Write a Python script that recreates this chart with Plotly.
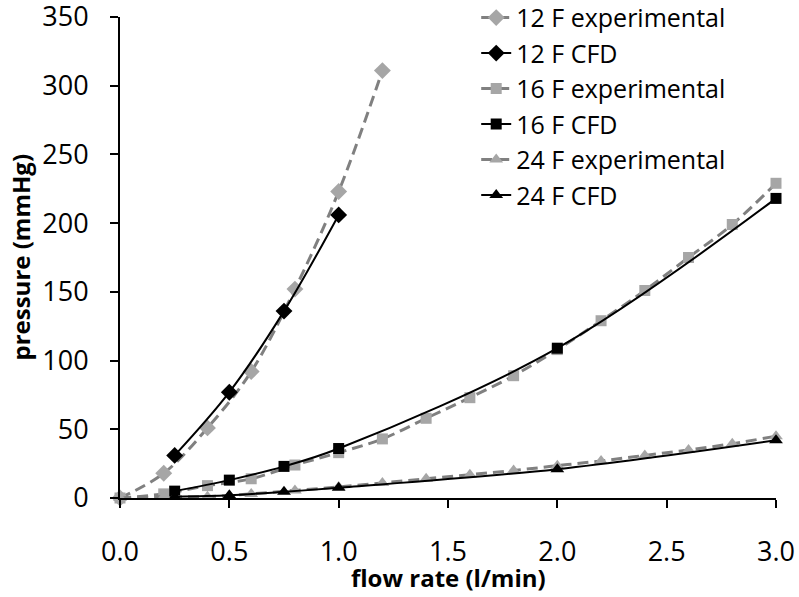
import plotly.graph_objects as go

# Data
x12_exp = [0, 0.2, 0.4, 0.6, 0.8, 1.0, 1.2]
y12_exp = [0, 18, 51, 92, 152, 223, 311]
x12_cfd = [0.25, 0.5, 0.75, 1.0]
y12_cfd = [31, 77, 136, 206]

x16_exp = [0, 0.2, 0.4, 0.6, 0.8, 1.0, 1.2, 1.4, 1.6, 1.8, 2.0, 2.2, 2.4, 2.6, 2.8, 3.0]
y16_exp = [0, 3, 9, 14, 24, 33, 43, 58, 73, 89, 108, 129, 151, 175, 199, 229]
x16_cfd = [0.25, 0.5, 0.75, 1.0, 2.0, 3.0]
y16_cfd = [5, 13, 23, 36, 109, 218]

x24_exp = [0, 0.2, 0.4, 0.6, 0.8, 1.0, 1.2, 1.4, 1.6, 1.8, 2.0, 2.2, 2.4, 2.6, 2.8, 3.0]
y24_exp = [0, 1, 1, 3, 5.5, 8, 11, 14, 17, 20, 23.5, 27, 31, 35, 39.5, 45]
x24_cfd = [0.25, 0.5, 0.75, 1.0, 2.0, 3.0]
y24_cfd = [1, 2, 4.5, 7.5, 21, 42]

x_ticks = [0, 0.5, 1.0, 1.5, 2.0, 2.5, 3.0]
y_ticks = [0, 50, 100, 150, 200, 250, 300, 350]

x_title = "flow rate (l/min)"
y_title = "pressure (mmHg)"

EXP_LINE = "#808080"
EXP_MARK = "#a6a6a6"
CFD = "#000000"
FONT = "Open Sans"

fig = go.Figure()

def exp_trace(x, y, name, symbol, size):
    return go.Scatter(x=x, y=y, name=name, mode="lines+markers",
                      line=dict(color=EXP_LINE, width=3, dash="11px,6px", shape="spline"),
                      marker=dict(symbol=symbol, color=EXP_MARK, size=size),
                      cliponaxis=False)

def cfd_trace(x, y, name, symbol, size):
    return go.Scatter(x=x, y=y, name=name, mode="lines+markers",
                      line=dict(color=CFD, width=2, shape="spline"),
                      marker=dict(symbol=symbol, color=CFD, size=size),
                      cliponaxis=False)

fig.add_trace(exp_trace(x12_exp, y12_exp, "12 F experimental", "diamond", 13))
fig.add_trace(cfd_trace(x12_cfd, y12_cfd, "12 F CFD", "diamond", 13))
fig.add_trace(exp_trace(x16_exp, y16_exp, "16 F experimental", "square", 11))
fig.add_trace(cfd_trace(x16_cfd, y16_cfd, "16 F CFD", "square", 11))
fig.add_trace(exp_trace(x24_exp, y24_exp, "24 F experimental", "triangle-up", 12))
fig.add_trace(cfd_trace(x24_cfd, y24_cfd, "24 F CFD", "triangle-up", 12))

fig.update_layout(
    width=799, height=597,
    margin=dict(l=120, r=23, t=17, b=99, autoexpand=False),
    plot_bgcolor="white", paper_bgcolor="white",
    font=dict(family=FONT, size=27, color="#000000"),
    showlegend=True,
    legend=dict(x=0.596, y=1.046, xref="container", yref="paper",
                xanchor="left", yanchor="top",
                bgcolor="rgba(0,0,0,0)", font=dict(size=25, family=FONT),
                tracegroupgap=0, itemwidth=30),
    xaxis=dict(range=[0, 3.0], tickvals=x_ticks,
               ticktext=[f"{v:.1f}" for v in x_ticks],
               showgrid=False, zeroline=False, showline=True,
               linecolor="black", linewidth=2, ticks="outside",
               ticklen=8, tickwidth=2, tickcolor="black",
               ticklabelstandoff=21, automargin=False, ticklabeloverflow="allow"),
    yaxis=dict(range=[0, 350], tickvals=y_ticks,
               showgrid=False, zeroline=False, showline=True,
               linecolor="black", linewidth=2, ticks="outside",
               ticklen=8, tickwidth=2, tickcolor="black",
               ticklabelstandoff=16, automargin=False, ticklabeloverflow="allow"),
    annotations=[
        dict(text=f"<b>{x_title}</b>", xref="paper", yref="paper", x=0.5, y=0,
             xanchor="center", yanchor="middle", yshift=-79, showarrow=False,
             font=dict(size=24, family=FONT)),
        dict(text=f"<b>{y_title}</b>", xref="paper", yref="paper", x=0, y=0.5,
             xanchor="center", yanchor="middle", xshift=-100, textangle=-90,
             showarrow=False, font=dict(size=24, family=FONT)),
    ],
)

fig.write_html("out.html", config={"displayModeBar": False},
               post_script="document.body.style.margin='0';document.body.style.padding='0';")
